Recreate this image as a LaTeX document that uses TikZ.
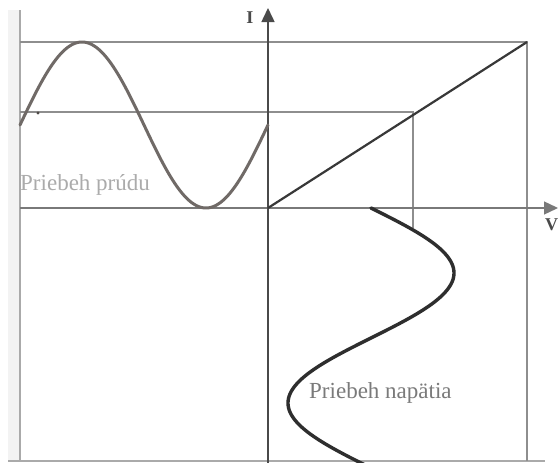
\documentclass[tikz,border=0pt]{standalone}
\usepackage{fontspec}
\setmainfont{Liberation Serif}
\usetikzlibrary{arrows.meta}
\definecolor{thinc}{HTML}{8E8E8E}
\definecolor{framec}{HTML}{AAAAAA}
\definecolor{axisc}{HTML}{4A4A4A}
\definecolor{curI}{HTML}{706A67}
\definecolor{curV}{HTML}{2E2E2E}
\definecolor{diagc}{HTML}{383838}
\definecolor{lblc}{HTML}{7A7A7A}
\definecolor{lbllight}{HTML}{ABABAB}
\definecolor{stripc}{HTML}{F3F3F3}
\begin{document}
\begin{tikzpicture}[x=1pt,y=-1pt,
  thinline/.style={draw=thinc,line width=1.1pt},
  frameline/.style={draw=framec,line width=1.2pt},
  axisline/.style={draw=axisc,line width=1.5pt},
  tip/.style={-{Triangle[width=13pt,length=14pt]}},
  bigtext/.style={font=\fontsize{23}{23}\selectfont,inner sep=0pt},
  axtext/.style={font=\bfseries\fontsize{18}{18}\selectfont,inner sep=0pt,text=axisc}]
\useasboundingbox (0,0) rectangle (558,463);
\fill[white] (0,0) rectangle (558,463);
\fill[stripc] (8,10) rectangle (19,461);
% named points
\coordinate (O) at (268,208);
\coordinate (Itop) at (268,8);
\coordinate (Ibot) at (268,463);
\coordinate (Vleft) at (20,208);
\coordinate (Vtip) at (558,208);
\coordinate (TL) at (20,42);
\coordinate (TR) at (527,42);
\coordinate (BR) at (527,461);
\coordinate (FL) at (20,10);
\coordinate (BL) at (8,461);
\coordinate (BRR) at (545,461);
\coordinate (HL) at (20,112);
\coordinate (Q) at (413,112);
\coordinate (Qd) at (413,228);
% frame
\draw[frameline] (FL) -- (20,461);
\draw[frameline] (BL) -- (BRR);
\draw[thinline] (TL) -- (TR) -- (BR);
% guide lines
\draw[thinline] (HL) -- (Q) -- (Qd);
% axes
\draw[thinline,line width=1.3pt,draw=thinc!85!black] (Vleft) -- (O);
\draw[thinline,line width=1.3pt,draw=thinc!85!black,tip] (O) -- (Vtip);
\draw[axisline,tip] (Ibot) -- (Itop);
% characteristic
\draw[draw=diagc,line width=2.2pt] (O) -- (TR);
% current waveform
\draw[draw=curI,line width=3pt,line cap=round] plot[domain=20:268,samples=150] (\x,{125-83*sin((\x-20)*1.451613)});
\fill[curI!70!black] (38,113) circle (1.6pt);
% voltage waveform
\draw[draw=curV,line width=3.4pt,line cap=round] plot[domain=208:466,samples=150] ({371+83*sin((\x-208)*1.384615)},\x);
% labels
\node[axtext,anchor=center] (ilbl) at (250,18) {I};
\node[axtext,anchor=north west] (vlbl) at (545,219) {V};
\node[bigtext,anchor=base west,text=lbllight] (prud) at (20,190) {Priebeh prúdu};
\node[bigtext,anchor=base west,text=lblc] (nap) at (309,398) {Priebeh napätia};
\end{tikzpicture}
\end{document}
